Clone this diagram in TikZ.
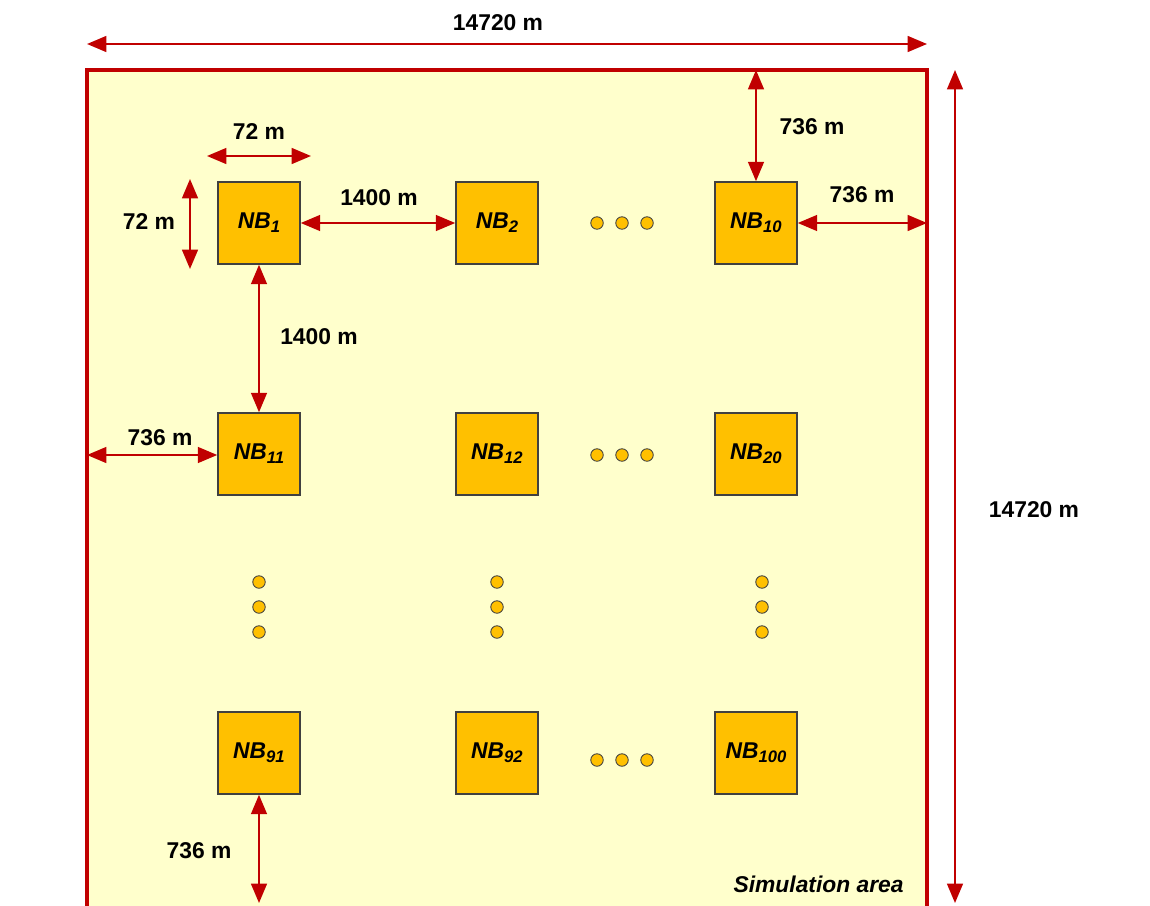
\documentclass[tikz,border=0pt]{standalone}
\usepackage{fontspec}
\setmainfont{Liberation Sans}
\usetikzlibrary{arrows.meta}
\definecolor{areafill}{HTML}{FFFFCC}
\definecolor{boxfill}{HTML}{FFC000}
\definecolor{dimred}{HTML}{C00000}
\definecolor{boxline}{HTML}{404040}
\newcommand{\nbsub}[1]{\textit{NB}\raisebox{-0.35ex}{\fontsize{9.5}{10}\selectfont #1}}
\tikzset{
  nbbox/.style={draw=boxline, line width=0.9pt, fill=boxfill, minimum width=1.64cm, minimum height=1.64cm, inner sep=0pt, font=\fontsize{13}{15}\selectfont\bfseries\itshape},
  dimarrow/.style={draw=dimred, line width=1.1pt, {Triangle[length=11pt,width=9pt]}-{Triangle[length=11pt,width=9pt]}},
  dimlabel/.style={font=\fontsize{13}{15}\selectfont\bfseries, inner sep=0pt},
  dotnode/.style={circle, draw=boxline, line width=0.5pt, fill=boxfill, minimum size=0.25cm, inner sep=0pt},
}
\begin{document}
\begin{tikzpicture}[x=0.02cm, y=-0.02cm]
\useasboundingbox (0,0) rectangle (1150,906);
\fill[white] (0,0) rectangle (1150,906);
\begin{scope}
\clip (0,0) rectangle (1150,906);
% simulation area
\coordinate (TL) at (87,70);
\coordinate (TR) at (927,70);
\coordinate (BL) at (87,930);
\coordinate (BR) at (927,930);
\draw[draw=dimred, line width=2.1pt, fill=areafill] (BL) -- (TL) -- (TR) -- (BR);
% outer dimension arrows
\coordinate (tL) at (87,44);
\coordinate (tR) at (927,44);
\draw[dimarrow] (tL) -- (tR);
\node[dimlabel] (lw) at (498,23) {14720 m};
\coordinate (rT) at (955,70);
\coordinate (rB) at (955,903);
\draw[dimarrow] (rT) -- (rB);
\node[dimlabel] (lh) at (1034,510) {14720 m};
% boxes
\node[nbbox] (nb1) at (259,223) {\nbsub{1}};
\node[nbbox] (nb2) at (497,223) {\nbsub{2}};
\node[nbbox] (nb10) at (756,223) {\nbsub{10}};
\node[nbbox] (nb11) at (259,454) {\nbsub{11}};
\node[nbbox] (nb12) at (497,454) {\nbsub{12}};
\node[nbbox] (nb20) at (756,454) {\nbsub{20}};
\node[nbbox] (nb91) at (259,753) {\nbsub{91}};
\node[nbbox] (nb92) at (497,753) {\nbsub{92}};
\node[nbbox] (nb100) at (756,753) {\nbsub{100}};
% horizontal dots
\foreach \y/\r in {223/a,455/b,760/c}{
  \node[dotnode] (hd\r1) at (597,\y) {};
  \node[dotnode] (hd\r2) at (622,\y) {};
  \node[dotnode] (hd\r3) at (647,\y) {};
}
% vertical dots
\foreach \x/\c in {259/a,497/b,762/c}{
  \node[dotnode] (vd\c1) at (\x,582) {};
  \node[dotnode] (vd\c2) at (\x,607) {};
  \node[dotnode] (vd\c3) at (\x,632) {};
}
% 72 m dimensions
\coordinate (wL) at (207,156);
\coordinate (wR) at (311,156);
\draw[dimarrow] (wL) -- (wR);
\node[dimlabel] (l72a) at (259,132) {72 m};
\coordinate (hT) at (190,179);
\coordinate (hB) at (190,269);
\draw[dimarrow] (hT) -- (hB);
\node[dimlabel] (l72b) at (149,222) {72 m};
% 1400 m
\draw[dimarrow] (nb1.east) -- (nb2.west);
\node[dimlabel] (l1400a) at (379,198) {1400 m};
\draw[dimarrow] (nb1.south) -- (nb11.north);
\node[dimlabel] (l1400b) at (319,337) {1400 m};
% 736 m
\coordinate (t736) at (756,70);
\draw[dimarrow] (t736) -- (nb10.north);
\node[dimlabel] (l736a) at (812,127) {736 m};
\coordinate (r736) at (927,223);
\draw[dimarrow] (nb10.east) -- (r736);
\node[dimlabel] (l736b) at (862,195) {736 m};
\coordinate (l736c) at (87,455);
\draw[dimarrow] (l736c) -- (nb11.west |- l736c);
\node[dimlabel] (lab736c) at (160,438) {736 m};
\coordinate (b736) at (259,903);
\draw[dimarrow] (nb91.south) -- (b736);
\node[dimlabel] (l736d) at (199,851) {736 m};
% area label
\node[dimlabel, anchor=east, font=\fontsize{13}{15}\selectfont\bfseries\itshape] (simlabel) at (904,884) {Simulation area};
\end{scope}
\end{tikzpicture}
\end{document}
